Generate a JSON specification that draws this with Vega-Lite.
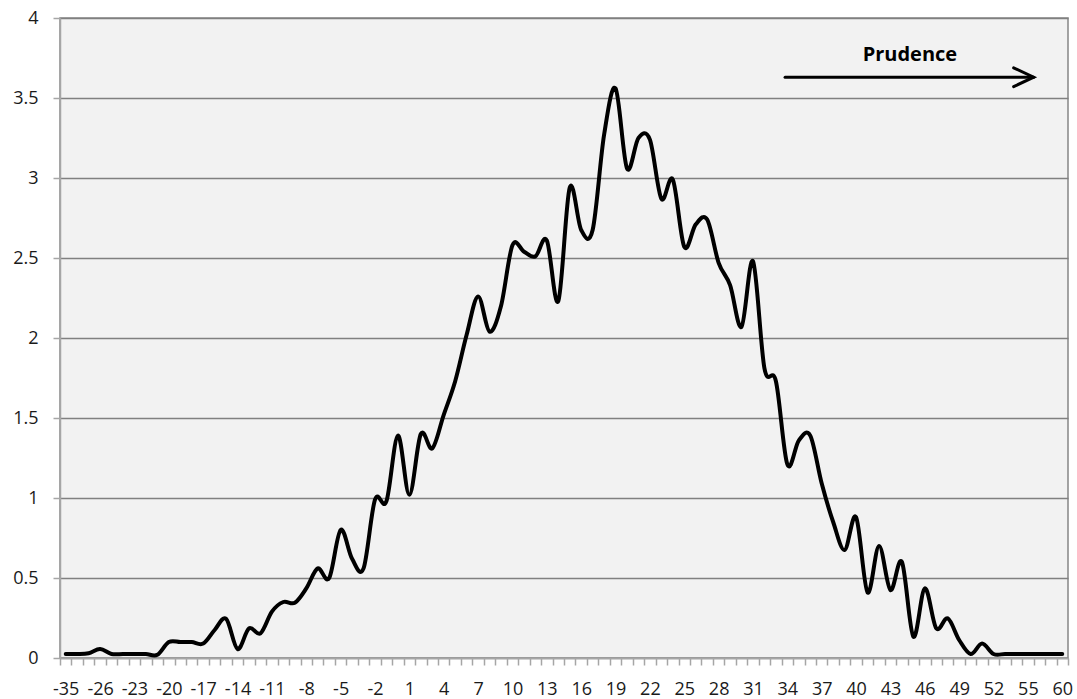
{
  "$schema": "https://vega.github.io/schema/vega-lite/v6.json",
  "width": 1008,
  "height": 640,
  "autosize": {"type": "none"},
  "padding": {"left": 60, "top": 18, "right": 9, "bottom": 41},
  "background": "white",
  "config": {
    "view": {"fill": "#f2f2f2", "stroke": "#868686", "strokeWidth": 1.5},
    "axis": {
      "labelFont": "Open Sans",
      "labelFontSize": 18,
      "labelColor": "#1a1a1a",
      "domainColor": "#a6a6a6",
      "domainWidth": 1.5,
      "tickColor": "#a6a6a6",
      "tickWidth": 1.5,
      "tickSize": 7,
      "title": null
    }
  },
  "datasets": {
    "dist": [
      {"k": "-35", "v": 0.025}, {"k": "-28", "v": 0.025}, {"k": "-27", "v": 0.03}, {"k": "-26", "v": 0.056},
      {"k": "-25", "v": 0.025}, {"k": "-24", "v": 0.025}, {"k": "-23", "v": 0.025}, {"k": "-22", "v": 0.025},
      {"k": "-21", "v": 0.02}, {"k": "-20", "v": 0.1}, {"k": "-19", "v": 0.1}, {"k": "-18", "v": 0.1},
      {"k": "-17", "v": 0.09}, {"k": "-16", "v": 0.175}, {"k": "-15", "v": 0.245}, {"k": "-14", "v": 0.056},
      {"k": "-13", "v": 0.185}, {"k": "-12", "v": 0.154}, {"k": "-11", "v": 0.29}, {"k": "-10", "v": 0.35},
      {"k": "-9", "v": 0.345}, {"k": "-8", "v": 0.435}, {"k": "-7", "v": 0.56}, {"k": "-6", "v": 0.5},
      {"k": "-5", "v": 0.8}, {"k": "-4", "v": 0.62}, {"k": "-3", "v": 0.56}, {"k": "-2", "v": 0.99},
      {"k": "-1", "v": 0.98}, {"k": "0", "v": 1.39}, {"k": "1", "v": 1.02}, {"k": "2", "v": 1.4},
      {"k": "3", "v": 1.31}, {"k": "4", "v": 1.52}, {"k": "5", "v": 1.73}, {"k": "6", "v": 2.02},
      {"k": "7", "v": 2.26}, {"k": "8", "v": 2.04}, {"k": "9", "v": 2.2}, {"k": "10", "v": 2.58},
      {"k": "11", "v": 2.54}, {"k": "12", "v": 2.51}, {"k": "13", "v": 2.61}, {"k": "14", "v": 2.23},
      {"k": "15", "v": 2.94}, {"k": "16", "v": 2.675}, {"k": "17", "v": 2.675}, {"k": "18", "v": 3.27},
      {"k": "19", "v": 3.56}, {"k": "20", "v": 3.06}, {"k": "21", "v": 3.25}, {"k": "22", "v": 3.24},
      {"k": "23", "v": 2.87}, {"k": "24", "v": 2.99}, {"k": "25", "v": 2.57}, {"k": "26", "v": 2.71},
      {"k": "27", "v": 2.74}, {"k": "28", "v": 2.47}, {"k": "29", "v": 2.33}, {"k": "30", "v": 2.07},
      {"k": "31", "v": 2.48}, {"k": "32", "v": 1.81}, {"k": "33", "v": 1.73}, {"k": "34", "v": 1.21},
      {"k": "35", "v": 1.36}, {"k": "36", "v": 1.39}, {"k": "37", "v": 1.09}, {"k": "38", "v": 0.85},
      {"k": "39", "v": 0.675}, {"k": "40", "v": 0.88}, {"k": "41", "v": 0.41}, {"k": "42", "v": 0.7},
      {"k": "43", "v": 0.425}, {"k": "44", "v": 0.6}, {"k": "45", "v": 0.133}, {"k": "46", "v": 0.435},
      {"k": "47", "v": 0.185}, {"k": "48", "v": 0.248}, {"k": "49", "v": 0.1125}, {"k": "50", "v": 0.025},
      {"k": "51", "v": 0.09}, {"k": "52", "v": 0.025}, {"k": "53", "v": 0.025}, {"k": "54", "v": 0.025},
      {"k": "55", "v": 0.025}, {"k": "57", "v": 0.025}, {"k": "58", "v": 0.025}, {"k": "60", "v": 0.025}
    ],
    "ann": [
      {"x0": 63.3, "x1": 85.0, "y": 3.63, "tx": 74.2, "ty": 3.77, "label": "Prudence"}
    ]
  },
  "layer": [
    {
      "data": {"name": "dist"},
      "mark": {"type": "line", "interpolate": "cardinal", "tension": 0, "color": "black", "strokeWidth": 4, "strokeJoin": "round", "strokeCap": "round"},
      "encoding": {
        "x": {
          "field": "k",
          "type": "ordinal",
          "sort": null,
          "bandPosition": 0.5,
          "scale": {"type": "band", "paddingInner": 0, "paddingOuter": 0},
          "axis": {
            "labelAngle": 0,
            "tickBand": "extent",
            "labelPadding": 15,
            "grid": false,
            "labelExpr": "indexof(['-35','-26','-23','-20','-17','-14','-11','-8','-5','-2','1','4','7','10','13','16','19','22','25','28','31','34','37','40','43','46','49','52','55','60'], datum.label) >= 0 ? datum.label : ''"
          }
        },
        "y": {
          "field": "v",
          "type": "quantitative",
          "scale": {"domain": [0, 4], "nice": false},
          "axis": {
            "values": [0, 0.5, 1, 1.5, 2, 2.5, 3, 3.5, 4],
            "format": "~g",
            "grid": true,
            "gridColor": "#808080",
            "gridWidth": 1.5,
            "labelPadding": 15
          }
        }
      }
    },
    {
      "data": {"name": "ann"},
      "mark": {"type": "rule", "strokeWidth": 3, "color": "black", "strokeCap": "round"},
      "encoding": {
        "x": {"field": "x0", "type": "quantitative", "scale": {"domain": [0, 88], "nice": false, "zero": false}, "axis": null},
        "x2": {"field": "x1"},
        "y": {"field": "y", "type": "quantitative"}
      }
    },
    {
      "data": {"name": "ann"},
      "mark": {"type": "point", "shape": "M-1,-0.47L0,0L-1,0.47", "size": 1600, "filled": false, "stroke": "black", "strokeWidth": 3, "opacity": 1, "strokeCap": "round", "strokeJoin": "miter"},
      "encoding": {
        "x": {"field": "x1", "type": "quantitative", "scale": {"domain": [0, 88], "nice": false, "zero": false}, "axis": null},
        "y": {"field": "y", "type": "quantitative"}
      }
    },
    {
      "data": {"name": "ann"},
      "mark": {"type": "text", "font": "Open Sans", "fontSize": 20, "fontWeight": "bold", "color": "black", "align": "center", "baseline": "middle"},
      "encoding": {
        "x": {"field": "tx", "type": "quantitative", "scale": {"domain": [0, 88], "nice": false, "zero": false}, "axis": null},
        "y": {"field": "ty", "type": "quantitative"},
        "text": {"field": "label"}
      }
    }
  ],
  "resolve": {"scale": {"x": "independent"}}
}
